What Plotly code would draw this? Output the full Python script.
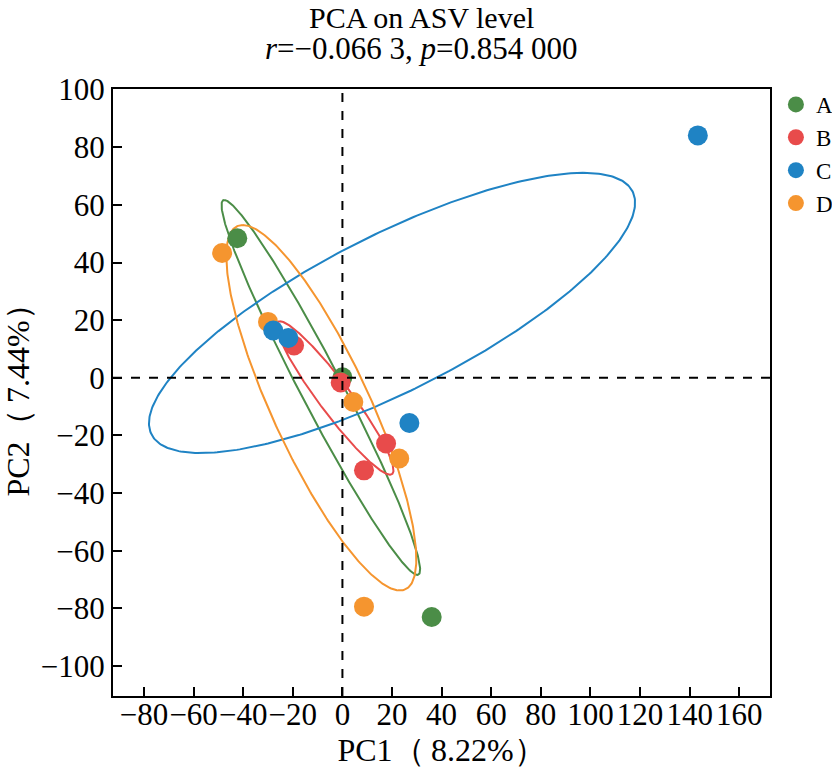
import numpy as np
import plotly.graph_objects as go

# sample scores (PC1, PC2)
groups = ["A", "B", "C", "D"]
colors = {"A": "#4b8d47", "B": "#e84b4b", "C": "#1f83c4", "D": "#f5952f"}

pc1 = {
    "A": [-42.4, 0.0, 36.0],
    "B": [-19.5, -0.7, 17.6, 8.7],
    "C": [-27.9, -21.8, 27.0, 143.3],
    "D": [-48.5, -30.0, 4.4, 22.9, 8.7],
}
pc2 = {
    "A": [48.4, 0.2, -83.0],
    "B": [11.2, -1.6, -22.8, -32.1],
    "C": [16.4, 13.8, -15.7, 84.1],
    "D": [43.3, 19.4, -8.4, -28.0, -79.4],
}

# confidence ellipses: centre, offset to the top-most point, half width through centre
ell_cx = {"A": -8.7, "B": -3.0, "C": 20.0, "D": -8.5}
ell_cy = {"A": -3.35, "B": -7.0, "C": 22.5, "D": -10.4}
ell_ux = {"A": -38.9, "B": -22.2, "C": 77.1, "D": -31.7}
ell_uy = {"A": 65.05, "B": 26.6, "C": 48.6, "D": 63.4}
ell_w = {"A": 9.5, "B": 8.0, "C": 60.5, "D": 21.5}

xticks = list(range(-80, 161, 20))
yticks = list(range(-100, 101, 20))

title1 = "PCA on ASV level"
title2 = "<i>r</i>=−0.066 3, <i>p</i>=0.854 000"

font = "Liberation Serif, Times New Roman, serif"

fig = go.Figure()

t = np.linspace(0, 2 * np.pi, 400)
for g in groups:
    ex = ell_cx[g] + ell_ux[g] * np.cos(t) + ell_w[g] * np.sin(t)
    ey = ell_cy[g] + ell_uy[g] * np.cos(t)
    fig.add_trace(go.Scatter(x=ex, y=ey, mode="lines",
                             line=dict(color=colors[g], width=2),
                             showlegend=False, hoverinfo="skip"))

# zero lines
fig.add_vline(x=0, line=dict(color="black", width=2, dash="dash"))
fig.add_hline(y=0, line=dict(color="black", width=2, dash="dash"))

rank = {"A": 1, "B": 2, "C": 3, "D": 4}
for g in ["D", "A", "B", "C"]:
    fig.add_trace(go.Scatter(x=pc1[g], y=pc2[g], mode="markers", name=g,
                             legendrank=rank[g],
                             marker=dict(color=colors[g], size=20,
                                         line=dict(width=0))))

# two title lines, set tighter than plotly's own multi-line title
fig.add_annotation(text=title1, xref="paper", yref="paper", x=0.469, y=1.117,
                   xanchor="center", yanchor="middle", showarrow=False,
                   font=dict(family=font, size=30))
fig.add_annotation(text=title2, xref="paper", yref="paper", x=0.469, y=1.066,
                   xanchor="center", yanchor="middle", showarrow=False,
                   font=dict(family=font, size=31))

fig.update_layout(
    width=832, height=780,
    margin=dict(l=113, r=62, t=89, b=84, autoexpand=False),
    paper_bgcolor="white", plot_bgcolor="white",
    font=dict(family=font, size=31, color="black"),
    legend=dict(x=1.009, xanchor="left", y=1.01, yanchor="top",
                font=dict(family=font, size=23),
                itemsizing="trace", tracegroupgap=0,
                bgcolor="rgba(0,0,0,0)"),
)
fig.update_xaxes(range=[-92.5, 172.4], tickvals=xticks, tickangle=0,
                 ticktext=[str(v).replace("-", "−") for v in xticks],
                 ticklabelstandoff=-10,
                 showgrid=False, zeroline=False,
                 showline=True, linecolor="black", linewidth=2, mirror=True,
                 ticks="inside", ticklen=9, tickwidth=2, tickcolor="black",
                 title=dict(text="PC1（\u20098.22%）", standoff=2,
                            font=dict(size=32)))
fig.update_yaxes(range=[-110.4, 100.2], tickvals=yticks,
                 ticktext=[str(v).replace("-", "−") for v in yticks],
                 showgrid=False, zeroline=False,
                 showline=True, linecolor="black", linewidth=2, mirror=True,
                 ticks="inside", ticklen=9, tickwidth=2, tickcolor="black",
                 title=dict(text="PC2（\u20097.44%）", standoff=6,
                            font=dict(size=32)))

# drop the page's default 8px body margin so the figure fills the window
fig.write_html("out.html", config={"displayModeBar": False},
               post_script="document.body.style.margin='0';")
